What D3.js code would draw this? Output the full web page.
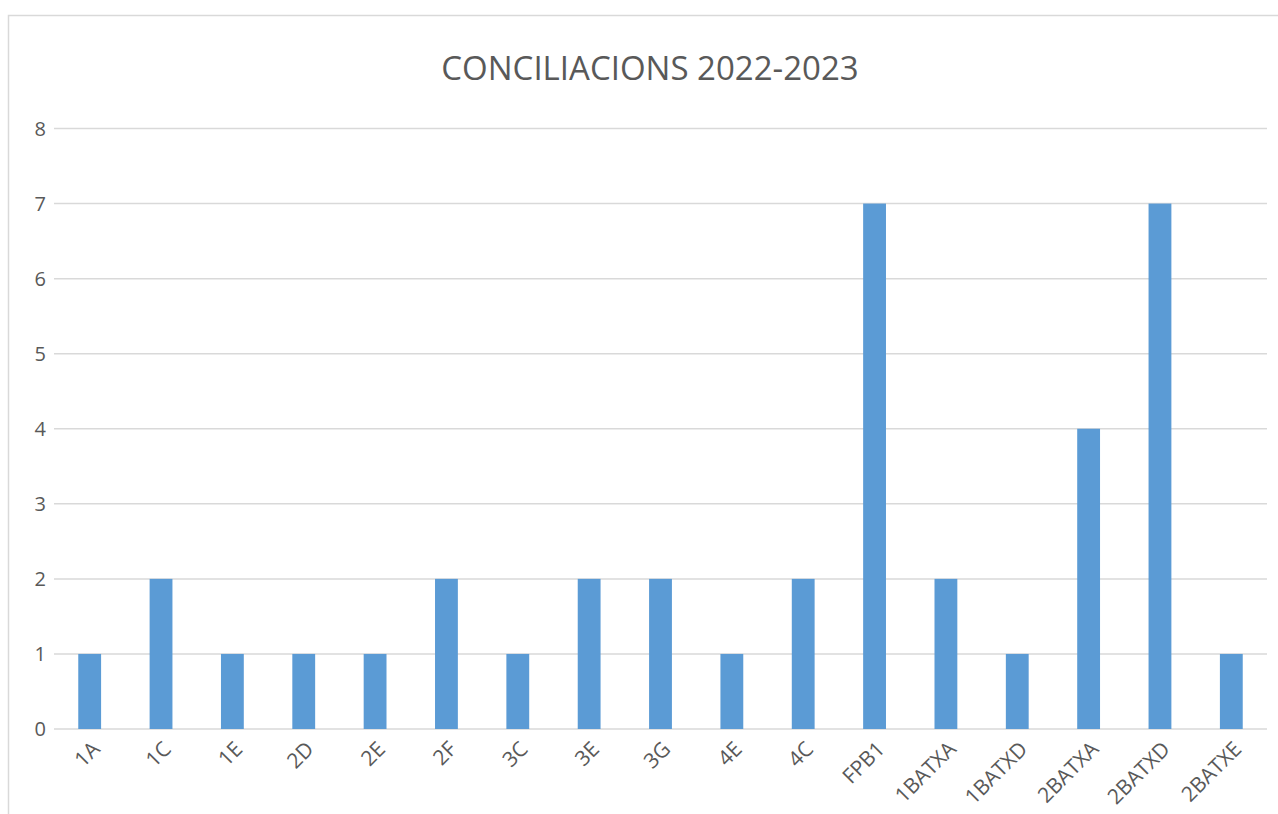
<!DOCTYPE html>
<html>

<head>
    <meta charset="UTF-8" />
    <title>conciliacions</title>
    <style>
        body {
            margin: 0;
            padding: 0;
            background: #fff;
            font-family: 'Open Sans', 'Noto Sans', sans-serif;
        }

        svg {
            display: block;
        }
    </style>
</head>

<body>
    <div class="container"></div>

    <script src="https://cdnjs.cloudflare.com/ajax/libs/d3/7.8.5/d3.min.js"></script>
    <script>
        const title = 'CONCILIACIONS 2022-2023'
        const groups = ['1A', '1C', '1E', '2D', '2E', '2F', '3C', '3E', '3G', '4E', '4C', 'FPB1',
            '1BATXA', '1BATXD', '2BATXA', '2BATXD', '2BATXE']
        const counts = [1, 2, 1, 1, 1, 2, 1, 2, 2, 1, 2, 7, 2, 1, 4, 7, 1]
        const yTicks = [0, 1, 2, 3, 4, 5, 6, 7, 8]

        const drawChart = () => {
            const width = 1278
            const height = 814
            const margin = { top: 128.5, right: 11, bottom: 85, left: 54 }

            const svg = d3.select('.container').append('svg')
                .attr('width', width)
                .attr('height', height)

            // chart frame (cut off at right/bottom like the screenshot)
            svg.append('path')
                .attr('d', `M8.5,${height} V15.5 H${width}`)
                .attr('fill', 'none')
                .attr('stroke', '#d9d9d9')
                .attr('stroke-width', 1.5)

            const x = d3.scaleBand()
                .domain(groups)
                .range([margin.left, width - margin.right])
                .paddingInner(0.68)
                .paddingOuter(0.34)

            const y = d3.scaleLinear()
                .domain([0, 8])
                .range([height - margin.bottom, margin.top])

            // gridlines
            svg.append('g')
                .selectAll('line')
                .data(yTicks)
                .join('line')
                .attr('x1', margin.left)
                .attr('x2', width - margin.right)
                .attr('y1', d => y(d))
                .attr('y2', d => y(d))
                .attr('stroke', '#d9d9d9')
                .attr('stroke-width', 1.5)

            // y labels
            svg.append('g')
                .selectAll('text')
                .data(yTicks)
                .join('text')
                .attr('x', 46)
                .attr('y', d => y(d))
                .attr('dy', '0.35em')
                .attr('text-anchor', 'end')
                .attr('fill', '#595959')
                .attr('font-size', 20)
                .text(d => d)

            // bars
            svg.append('g')
                .selectAll('rect')
                .data(counts)
                .join('rect')
                .attr('x', (d, i) => x(groups[i]))
                .attr('width', x.bandwidth())
                .attr('y', d => y(d))
                .attr('height', d => y(0) - y(d))
                .attr('fill', '#5b9bd5')

            // x labels, rotated
            svg.append('g')
                .selectAll('text')
                .data(groups)
                .join('text')
                .attr('transform', d => `translate(${x(d) + x.bandwidth() / 2 + 1},${y(0) + 11}) rotate(-45)`)
                .attr('text-anchor', 'end')
                .attr('dy', '0.7em')
                .attr('fill', '#595959')
                .attr('font-size', 21)
                .text(d => d)

            svg.append('text')
                .attr('x', 650)
                .attr('y', 80)
                .attr('text-anchor', 'middle')
                .attr('fill', '#595959')
                .attr('font-size', 33)
                .text(title)
        }

        drawChart()
    </script>
</body>

</html>
